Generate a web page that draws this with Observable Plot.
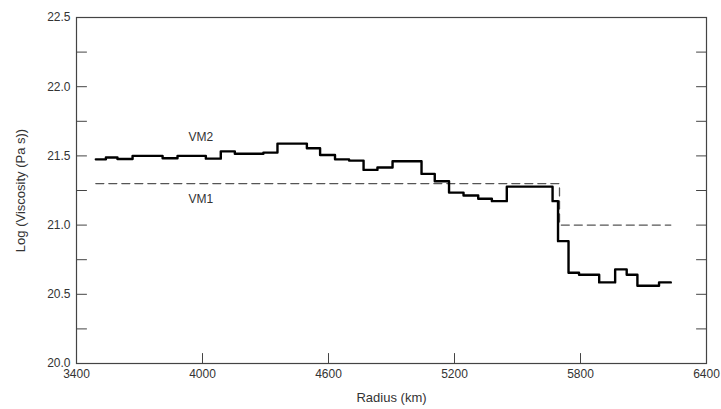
<!DOCTYPE html>
<html>
<head>
<meta charset="utf-8">
<script src="https://cdn.jsdelivr.net/npm/d3@7"></script>
<script src="https://cdn.jsdelivr.net/npm/@observablehq/plot@0.6"></script>
<style>
  html, body { margin: 0; padding: 0; background: #fff; }
  svg { font-family: "Liberation Sans", Arial, sans-serif; }
</style>
</head>
<body>
<div id="chart"></div>
<script>
// VM2 layered viscosity model: layer boundaries (km) and log viscosity per layer
const vm2Edges = [3492, 3540, 3595, 3667, 3810, 3881, 4016, 4087, 4154, 4290, 4357, 4497, 4560, 4631, 4698, 4767, 4833, 4905, 5043, 5106, 5174, 5243, 5313, 5378, 5449, 5667, 5693, 5743, 5793, 5889, 5965, 6020, 6071, 6174, 6230];
const vm2Values = [21.475, 21.488, 21.478, 21.5, 21.483, 21.5, 21.48, 21.533, 21.515, 21.524, 21.589, 21.555, 21.507, 21.475, 21.466, 21.399, 21.416, 21.461, 21.37, 21.317, 21.235, 21.214, 21.19, 21.173, 21.278, 21.173, 20.884, 20.656, 20.641, 20.586, 20.68, 20.641, 20.562, 20.586];

// VM1 two-layer model
const vm1Edges = [3492, 5700, 6230];
const vm1Values = [21.3, 21.0];

// Series labels
const seriesNames = ["VM2", "VM1"];
const seriesLabelX = [3992, 3992];
const seriesLabelY = [21.632, 21.185];

// Ticks
const xTicks = [3400, 4000, 4600, 5200, 5800, 6400];
const xInnerTicks = [4000, 4600, 5200, 5800];
const yTicks = [20.0, 20.5, 21.0, 21.5, 22.0, 22.5];
const yMinorTicks = [20.25, 20.5, 20.75, 21.0, 21.25, 21.5, 21.75, 22.0, 22.25];

const xLabel = "Radius (km)";
const yLabel = "Log (Viscosity (Pa s))";

function steps(edges, values) {
  const pts = values.map((v, i) => ({x: edges[i], y: v}));
  pts.push({x: edges[edges.length - 1], y: values[values.length - 1]});
  return pts;
}
const vm2 = steps(vm2Edges, vm2Values);
const vm1 = steps(vm1Edges, vm1Values);

const textColor = "#333";
const axisColor = "#444";
const tickShape = {draw(context, l) { context.moveTo(0, 0); context.lineTo(0, -l); }};

const chart = Plot.plot({
  width: 721,
  height: 409,
  marginLeft: 76,
  marginRight: 15,
  marginTop: 17,
  marginBottom: 46,
  style: {fontFamily: "'Liberation Sans', Arial, sans-serif", fontSize: "12px", color: textColor, background: "#fff"},
  x: {domain: [3400, 6400]},
  y: {domain: [20, 22.5]},
  marks: [
    Plot.axisX(xTicks, {tickSize: 0, tickPadding: 6, tickFormat: d => String(d), label: null, fill: textColor, fontSize: 12}),
    Plot.axisY(yTicks, {tickSize: 0, tickPadding: 6, tickFormat: d => d.toFixed(1), label: null, fill: textColor, fontSize: 12}),
    Plot.vector(yMinorTicks, {y: d => d, frameAnchor: "left", rotate: 90, length: 10, anchor: "start", shape: tickShape, stroke: axisColor, strokeWidth: 1}),
    Plot.vector(yMinorTicks, {y: d => d, frameAnchor: "right", rotate: -90, length: 10, anchor: "start", shape: tickShape, stroke: axisColor, strokeWidth: 1}),
    Plot.vector(xInnerTicks, {x: d => d, frameAnchor: "bottom", rotate: 0, length: 10, anchor: "start", shape: tickShape, stroke: axisColor, strokeWidth: 1}),
    Plot.frame({stroke: axisColor, strokeWidth: 1.2}),
    Plot.line(vm1, {x: "x", y: "y", curve: "step-after", stroke: "#555", strokeWidth: 1.3, strokeDasharray: "8,5"}),
    Plot.line(vm2, {x: "x", y: "y", curve: "step-after", stroke: "#000", strokeWidth: 2.4}),
    Plot.text(seriesNames, {x: (d, i) => seriesLabelX[i], y: (d, i) => seriesLabelY[i], text: d => d, fill: textColor, fontSize: 12}),
    Plot.text([xLabel], {frameAnchor: "bottom", dy: 34, lineAnchor: "middle", textAnchor: "middle", text: d => d, fill: textColor, fontSize: 13}),
    Plot.text([yLabel], {frameAnchor: "left", dx: -56, rotate: -90, textAnchor: "middle", lineAnchor: "middle", text: d => d, fill: textColor, fontSize: 13})
  ]
});
document.getElementById("chart").appendChild(chart);
</script>
</body>
</html>
